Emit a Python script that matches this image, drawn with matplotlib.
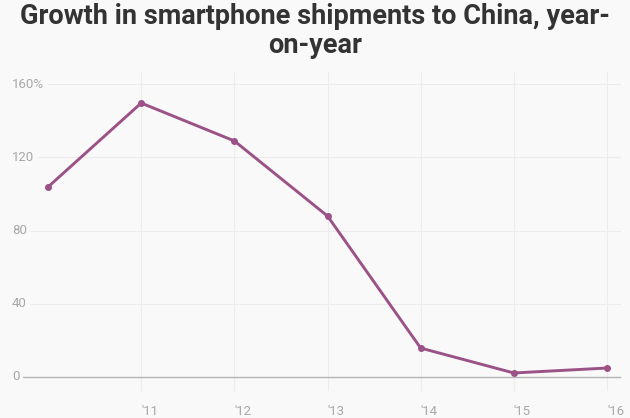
import matplotlib
matplotlib.use("Agg")
import matplotlib.pyplot as plt

years = [2010, 2011, 2012, 2013, 2014, 2015, 2016]
growth = [103.8, 149.6, 128.9, 87.9, 15.8, 2.2, 4.9]
xtick_years = [2011, 2012, 2013, 2014, 2015, 2016]
xtick_labels = ["'11", "'12", "'13", "'14", "'15", "'16"]
ytick_vals = [0, 40, 80, 120, 160]
ytick_labels = ["0", "40", "80", "120", "160%"]
title = "Growth in smartphone shipments to China, year-\non-year"

BG = "#f9f9f9"
LINE = "#9b5287"
W, H = 630, 418

fig = plt.figure(figsize=(6.3, 4.18), dpi=100, facecolor=BG)
left, right = 12 / W, 620 / W
bottom, top = (H - 377) / H, (H - 84) / H
ax = fig.add_axes([left, bottom, right - left, top - bottom])
ax.set_facecolor(BG)
ax.set_xlim(2010 - 36 / 93, 2016 + 13 / 93)
ax.set_ylim(0, 160)
for s in ax.spines.values():
    s.set_visible(False)
ax.set_xticks([])
ax.set_yticks([])

# vertical gridlines
for yr in xtick_years:
    ax.axvline(yr, ymin=-0.045, ymax=1.04, color="#ececec", lw=0.8, clip_on=False, zorder=0)
# horizontal gridlines
for v in ytick_vals[1:]:
    ax.axhline(v, color="#ececec", lw=0.8, zorder=0, clip_on=False)
ax.axhline(0, color="#b4b4b4", lw=1.0, zorder=1, clip_on=False)

lab_font = dict(family=["Roboto", "DejaVu Sans"], fontsize=9.5, color="#a8a8a8")
for v, lab in zip(ytick_vals, ytick_labels):
    ax.text(0, v, lab, transform=ax.get_yaxis_transform(), ha="left", va="center",
            bbox=dict(facecolor=BG, edgecolor="none", pad=2.5), zorder=2, **lab_font)
for yr, lab in zip(xtick_years, xtick_labels):
    ax.annotate(lab, xy=(yr, 0), xycoords=("data", "axes fraction"),
                xytext=(0, -25), textcoords="offset points", ha="left", va="center", **lab_font)

ax.plot(years, growth, color=LINE, lw=2.1, marker="o", ms=4, zorder=3, clip_on=False)

fig.text(0.5, 1 - 31 / H, title, ha="center", va="center", fontsize=19.5,
         fontweight="bold", color="#333333", family=["Roboto", "DejaVu Sans"],
         linespacing=1.05)

fig.savefig("out.png", dpi=100, facecolor=BG)
